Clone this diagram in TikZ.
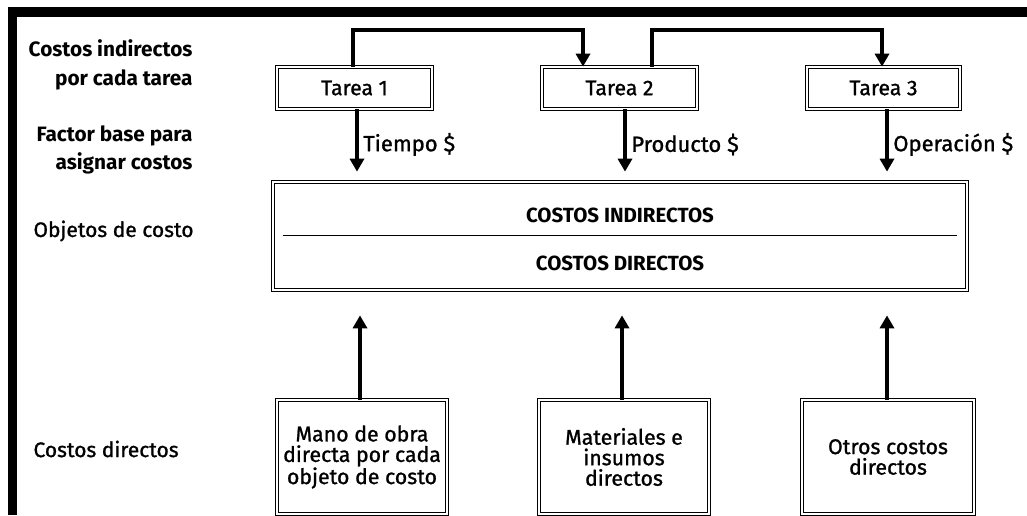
\documentclass[tikz,border=0pt]{standalone}
\usepackage{fontspec}
\setmainfont{Fira Sans}
\newfontfamily\med[FakeBold=1.1]{Fira Sans}
\usetikzlibrary{arrows.meta,calc}
\begin{document}
\begin{tikzpicture}[x=1pt,y=-1pt,
  dbox/.style={draw=black,line width=0.7pt,double=white,double distance=2.2pt,inner sep=0pt},
  conn/.style={line width=4pt,-{Triangle[width=14pt,length=13pt]}},
  side/.style={font=\fontsize{20.8}{28.5}\selectfont\bfseries,align=right,anchor=east},
  sidereg/.style={font=\med\fontsize{21}{27}\selectfont,anchor=west},
  tlabel/.style={font=\med\fontsize{21.2}{23}\selectfont},
  alabel/.style={font=\med\fontsize{22}{23}\selectfont},
  btext/.style={font=\med\fontsize{21.3}{20.5}\selectfont,align=center},
  caps/.style={font=\fontsize{20.5}{21}\selectfont\bfseries}
]
\useasboundingbox (0,0) rectangle (1027,515);
% frame
\fill[black] (8,7) rectangle (1027,17);
\fill[black] (8,7) rectangle (17,515);
% left labels
\node[side] (l1) at (196,65) {Costos indirectos\\por cada tarea};
\node[side] (l2) at (196,150) {Factor base para\\asignar costos};
\node[sidereg] (l3) at (30,231) {Objetos de costo};
\node[sidereg] (l4) at (30,449) {Costos directos};
% task boxes
\node[dbox,minimum width=155pt,minimum height=42pt,tlabel] (t1) at (354.5,88) {Tarea 1};
\node[dbox,minimum width=155pt,minimum height=42pt,tlabel] (t2) at (619.5,88) {Tarea 2};
\node[dbox,minimum width=153pt,minimum height=42pt,tlabel] (t3) at (883.5,88) {Tarea 3};
% big box
\node[dbox,minimum width=694pt,minimum height=108pt] (big) at (620,236) {};
\node[caps] (ci) at (620,215) {COSTOS INDIRECTOS};
\node[caps] (cd) at (620,263) {COSTOS DIRECTOS};
\draw[line width=0.9pt] ($(big.west)+(10,-1)$) -- ($(big.east)+(-10,-1)$);
% bottom boxes
\node[dbox,minimum width=170pt,minimum height=114pt,btext] (b1) at (362,457) {Mano de obra\\directa por cada\\objeto de costo};
\node[dbox,minimum width=170pt,minimum height=114pt,btext] (b2) at (624,457) {Materiales e\\insumos\\directos};
\node[dbox,minimum width=172pt,minimum height=114pt,btext] (b3) at (888,457) {Otros costos\\directos};
% connectors between tasks
\draw[conn] ([xshift=-1.5pt]t1.north) -- ++(0,-37) -| ([xshift=-36.5pt]t2.north);
\draw[conn] ([xshift=32.5pt]t2.north) -- ++(0,-37) -| ([xshift=-1.5pt]t3.north);
% down arrows
\draw[conn] ([xshift=2.5pt]t1.south) -- ([xshift=2.5pt,yshift=10pt]t1.south |- big.north) node[alabel,midway,right,xshift=1pt,yshift=-4pt] (a1) {Tiempo \$};
\draw[conn] ([xshift=5.5pt]t2.south) -- ([xshift=5.5pt,yshift=10pt]t2.south |- big.north) node[alabel,midway,right,xshift=1pt,yshift=-4pt] (a2) {Producto \$};
\draw[conn] ([xshift=3.5pt]t3.south) -- ([xshift=3.5pt,yshift=10pt]t3.south |- big.north) node[alabel,midway,right,xshift=1pt,yshift=-4pt] (a3) {Operación \$};
% up arrows
\draw[conn] ([xshift=-2pt]b1.north) -- ([xshift=-2pt,yshift=-25pt]b1.north |- big.south);
\draw[conn] ([xshift=-2pt]b2.north) -- ([xshift=-2pt,yshift=-25pt]b2.north |- big.south);
\draw[conn] ([xshift=-1pt]b3.north) -- ([xshift=-1pt,yshift=-25pt]b3.north |- big.south);
\end{tikzpicture}
\end{document}
